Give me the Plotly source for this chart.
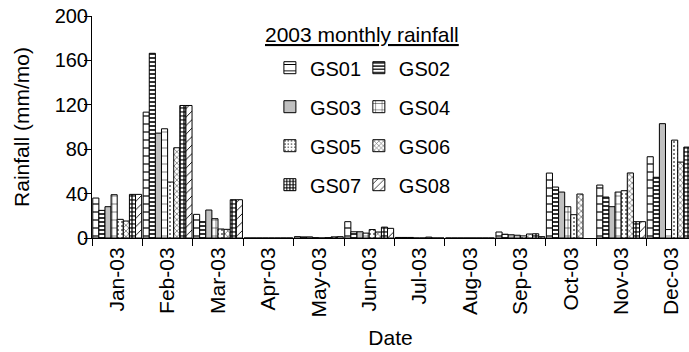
import plotly.graph_objects as go

# Monthly rainfall totals (mm/mo) at eight gauging stations, 2003
months = ["Jan-03", "Feb-03", "Mar-03", "Apr-03", "May-03", "Jun-03",
          "Jul-03", "Aug-03", "Sep-03", "Oct-03", "Nov-03", "Dec-03"]

gs01 = [36.0, 113.4, 21.3, 0, 1.2, 14.7, 0.5, 0, 5.4, 58.5, 47.7, 73.2]
gs02 = [24.9, 166.4, 14.7, 0, 1.0, 5.6, 0.5, 0, 3.4, 45.9, 36.9, 54.7]
gs03 = [28.2, 94.5, 25.2, 0, 1.0, 5.6, 0.5, 0, 2.9, 41.4, 28.2, 103.0]
gs04 = [39.0, 98.4, 17.4, 0, 0.3, 4.4, 0, 0, 2.5, 28.2, 41.4, 7.6]
gs05 = [16.8, 50.4, 8.1, 0, 0, 7.6, 0, 0, 1.9, 21.0, 42.6, 88.2]
gs06 = [15.3, 81.3, 7.8, 0, 0.3, 5.4, 0.8, 0, 3.6, 39.6, 58.6, 68.4]
gs07 = [39.3, 119.4, 34.5, 0, 1.0, 9.8, 0, 0, 3.8, None, 14.7, 81.9]
gs08 = [39.3, 119.4, 34.5, 0, 1.2, 8.7, 0, 0, 1.2, None, 14.7, 80.0]

series_names = ["GS01", "GS02", "GS03", "GS04", "GS05", "GS06", "GS07", "GS08"]
series_values = [gs01, gs02, gs03, gs04, gs05, gs06, gs07, gs08]

# Fill style per station (pattern shape, size, solidity, fg, bg)
fills = {
    "GS01": dict(shape="-", size=8, solidity=0.15, fgcolor="black", bgcolor="white"),
    "GS02": dict(shape="-", size=4, solidity=0.4, fgcolor="black", bgcolor="white"),
    "GS03": None,
    "GS04": dict(shape="+", size=8, solidity=0.12, fgcolor="black", bgcolor="white"),
    "GS05": dict(shape=".", size=4, solidity=0.2, fgcolor="#555555", bgcolor="white"),
    "GS06": dict(shape="x", size=4, solidity=0.3, fgcolor="#555555", bgcolor="white"),
    "GS07": dict(shape=".", size=4, solidity=0.4, fgcolor="white", bgcolor="#222222"),
    "GS08": dict(shape="/", size=6, solidity=0.15, fgcolor="black", bgcolor="white"),
}

FONT = "Liberation Sans, Arial, sans-serif"

fig = go.Figure()
for i, (name, vals) in enumerate(zip(series_names, series_values)):
    pat = fills[name]
    marker = dict(line=dict(color="black", width=1))
    if pat is None:
        marker["color"] = "#c0c0c0"
    else:
        marker["color"] = pat["bgcolor"]
        marker["pattern"] = dict(fillmode="replace", **pat)
    fig.add_trace(go.Bar(
        x=months, y=vals, name=name, marker=marker,
        legend="legend" if i % 2 == 0 else "legend2",
        legendgroup=name,
    ))

# Two stacked legends side by side form the two-column key
legend_common = dict(
    font=dict(family=FONT, size=20, color="black"),
    bgcolor="rgba(0,0,0,0)",
    borderwidth=0,
    tracegroupgap=10,
    xanchor="left", yanchor="top",
    traceorder="grouped",
)

fig.update_layout(
    width=689, height=352,
    margin=dict(l=92, r=0, t=16, b=114),
    paper_bgcolor="white", plot_bgcolor="white",
    font=dict(family=FONT, size=20, color="black"),
    barmode="group", bargap=0.03, bargroupgap=0,
    legend=dict(x=0.298, y=0.855, **legend_common),
    legend2=dict(x=0.447, y=0.855, **legend_common),
    xaxis=dict(
        type="category",
        range=[-0.5, -0.5 + (689 - 92) / 50.4],
        tickson="boundaries", ticks="outside", ticklen=7, tickcolor="black",
        showline=True, linecolor="black", linewidth=1,
        tickangle=-90, showgrid=False,
        tickfont=dict(family=FONT, size=21),
        title=dict(text="Date", font=dict(family=FONT, size=21), standoff=13),
    ),
    yaxis=dict(
        range=[0, 200], dtick=40, tick0=0,
        ticks="outside", ticklen=7, tickcolor="black",
        showline=True, linecolor="black", linewidth=1,
        showgrid=False, zeroline=False,
        ticklabelstandoff=-8,
        tickfont=dict(family=FONT, size=20),
        title=dict(text="Rainfall (mm/mo)", font=dict(family=FONT, size=21), standoff=19),
    ),
    annotations=[dict(
        text="<u>2003 monthly rainfall</u>",
        xref="paper", yref="paper", x=0.452, y=0.915,
        xanchor="center", yanchor="middle", showarrow=False,
        font=dict(family=FONT, size=21, color="black"),
    )],
)

fig.write_html("out.html")
